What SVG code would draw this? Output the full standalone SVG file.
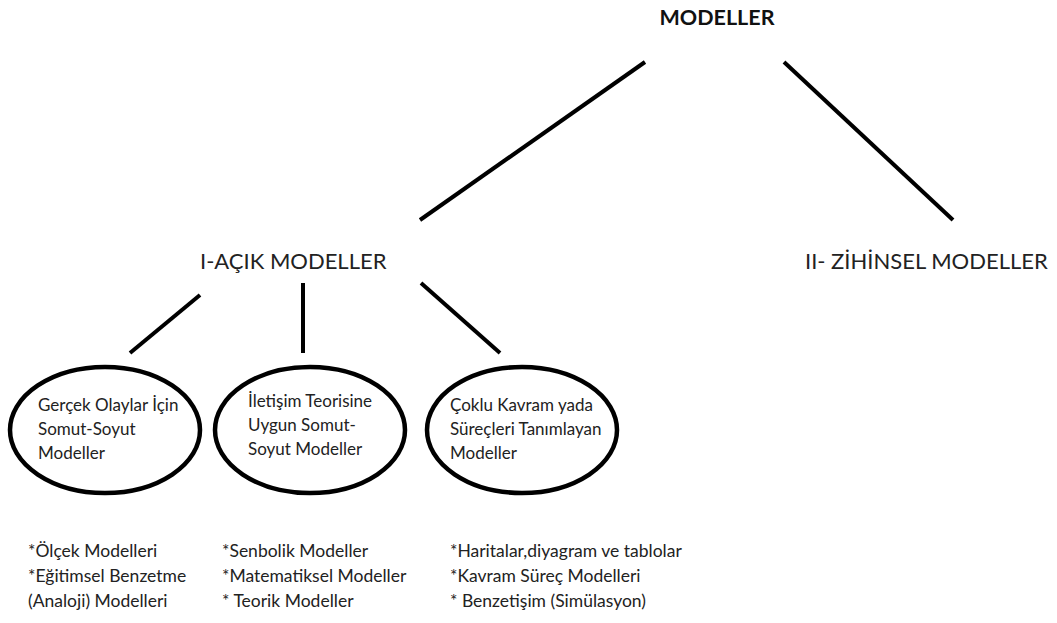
<svg xmlns="http://www.w3.org/2000/svg" width="1057" height="623" viewBox="0 0 1057 623">
  <style>
    .t { font-family: Lato, "Open Sans", "Liberation Sans", sans-serif; fill: #222; }
    .title { font-size: 21.5px; font-weight: bold; fill: #111; }
    .level { font-size: 22px; }
    .inner { font-size: 17px; }
    .list { font-size: 17.5px; }
    .edge { stroke: #000; stroke-width: 4; stroke-linecap: butt; fill: none; }
    .oval { stroke: #000; stroke-width: 4.5; fill: #fff; }
  </style>
  <rect width="1057" height="623" fill="#fff"/>

  <!-- tree branches -->
  <g id="connectors">
    <line class="edge" x1="645" y1="62" x2="420" y2="220"/>
    <line class="edge" x1="784" y1="62" x2="953" y2="220"/>
    <line class="edge" x1="200" y1="295" x2="130" y2="353"/>
    <line class="edge" x1="303" y1="283" x2="303" y2="353"/>
    <line class="edge" x1="421" y1="283" x2="500" y2="353"/>
  </g>

  <g id="modeller">
    <text class="t title" x="717" y="25" text-anchor="middle">MODELLER</text>
  </g>

  <g id="acik-modeller">
    <text class="t level" x="200" y="269">I-AÇIK MODELLER</text>
  </g>

  <g id="zihinsel-modeller">
    <text class="t level" x="805" y="269">II- ZİHİNSEL MODELLER</text>
  </g>

  <g id="gercek-olaylar">
    <ellipse class="oval" cx="105" cy="430" rx="95" ry="63"/>
    <text class="t inner" x="38" y="411">Gerçek Olaylar  İçin</text>
    <text class="t inner" x="38" y="435">Somut-Soyut</text>
    <text class="t inner" x="38" y="459">Modeller</text>
  </g>

  <g id="iletisim-teorisi">
    <ellipse class="oval" cx="310" cy="430" rx="95" ry="63"/>
    <text class="t inner" x="248" y="407">İletişim Teorisine</text>
    <text class="t inner" x="248" y="431">Uygun Somut-</text>
    <text class="t inner" x="248" y="455">Soyut  Modeller</text>
  </g>

  <g id="coklu-kavram">
    <ellipse class="oval" cx="522" cy="430" rx="95" ry="63"/>
    <text class="t inner" x="450" y="411">Çoklu Kavram yada</text>
    <text class="t inner" x="450" y="435">Süreçleri Tanımlayan</text>
    <text class="t inner" x="450" y="459">Modeller</text>
  </g>

  <!-- example lists under each oval -->
  <g id="list-gercek">
    <text class="t list" x="28" y="557">*Ölçek Modelleri</text>
    <text class="t list" x="28" y="582">*Eğitimsel Benzetme</text>
    <text class="t list" x="28" y="607">(Analoji) Modelleri</text>
  </g>

  <g id="list-iletisim">
    <text class="t list" x="222" y="557">*Senbolik  Modeller</text>
    <text class="t list" x="222" y="582">*Matematiksel Modeller</text>
    <text class="t list" x="222" y="607">* Teorik Modeller</text>
  </g>

  <g id="list-coklu">
    <text class="t list" x="450" y="557">*Haritalar,diyagram ve tablolar</text>
    <text class="t list" x="450" y="582">*Kavram Süreç Modelleri</text>
    <text class="t list" x="450" y="607">* Benzetişim (Simülasyon)</text>
  </g>
</svg>
